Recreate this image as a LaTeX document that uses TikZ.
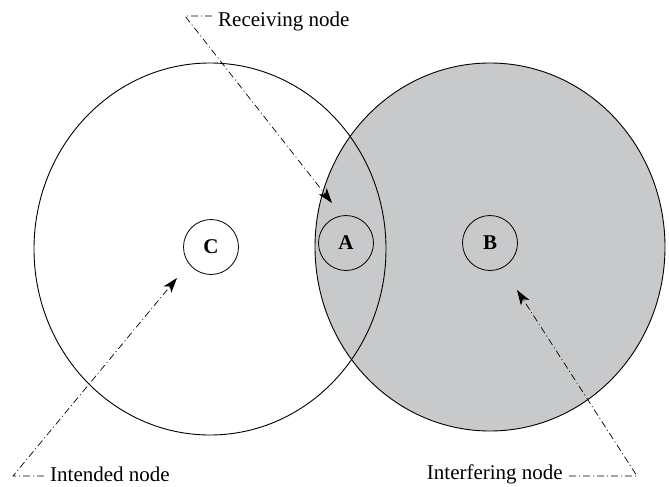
\documentclass[tikz,border=0pt]{standalone}
\usepackage{fontspec}
\setmainfont{Liberation Serif}
\usetikzlibrary{arrows.meta, calc}
\definecolor{zonegray}{RGB}{200,201,203}
\tikzset{
    small_node/.style={circle, draw, line width=0.8pt, minimum size=55pt, inner sep=0pt, font=\fontsize{21}{25}\selectfont\bfseries},
    cover_area/.style={line width=0.9pt},
    caption/.style={inner sep=6pt, font=\fontsize{21}{25}\selectfont},
    pointer/.style={line width=0.7pt, dash pattern=on 7pt off 3pt on 1pt off 3pt, -{Stealth[length=15pt, width=10pt, inset=4pt]}}
}
\begin{document}
\begin{tikzpicture}[x=1pt, y=-1pt]
        \useasboundingbox (0,0) rectangle (669,487);

        % Area of the interfering node (grey)
        \fill[zonegray] (490,247) circle [x radius=175, y radius=184];
        \draw[cover_area] (490,247) circle [x radius=175, y radius=184];
        \draw[cover_area] (210,249) circle [x radius=176, y radius=186];

        % The three stations
        \node (C) [small_node] at (211,247) {C};
        \node (A) [small_node] at (346,243) {A};
        \node (B) [small_node] at (490,243) {B};

        % Texts
        \node (recv) [caption, anchor=west] at (212,21) {Receiving node};
        \node (intd) [caption, anchor=west] at (44,474) {Intended node};
        \node (intf) [caption, anchor=east] at (569,474) {Interfering node};

        % Arrow tips near the stations
        \coordinate (recv_tip) at (332,203);
        \coordinate (intd_tip) at (177,278);
        \coordinate (intf_tip) at (517,290);

        % Pointers (text to station)
        \draw [pointer] ([yshift=5pt]recv.west) -- ++(-27,0) -- (recv_tip);
        \draw [pointer] ([yshift=-2pt]intd.west) -- ++(-31,0) -- (intd_tip);
        \draw [pointer] ([yshift=-2pt]intf.east) -- ++(68,0) -- (intf_tip);

    \end{tikzpicture}
\end{document}
